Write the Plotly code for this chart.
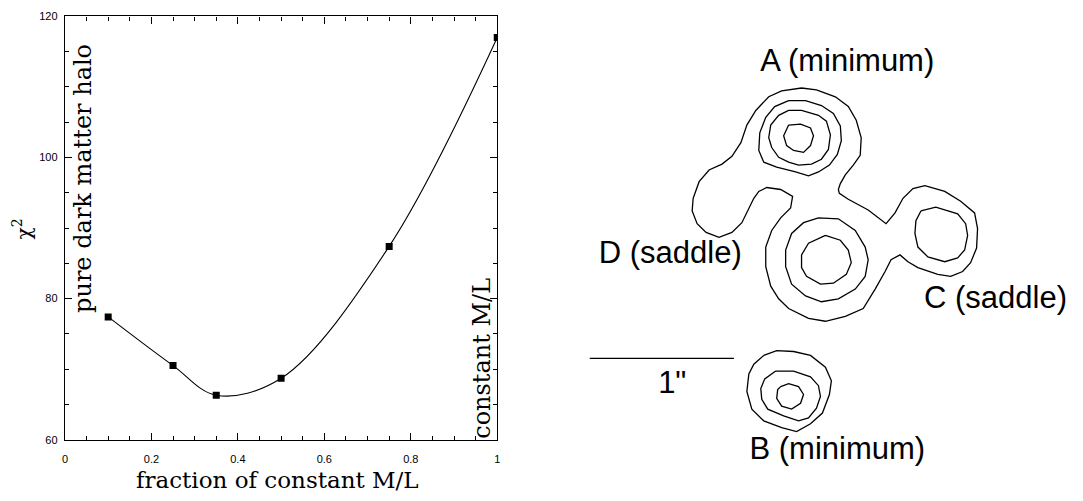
import plotly.graph_objects as go

# ---- left panel: chi^2 versus mass-to-light fraction ----
frac = [0.1, 0.25, 0.35, 0.5, 0.75, 1.0]
chi2 = [77.4, 70.5, 66.3, 68.7, 87.4, 117.0]

x_ticks = [0, 0.2, 0.4, 0.6, 0.8, 1]
x_tick_text = ["0", "0.2", "0.4", "0.6", "0.8", "1"]
y_ticks = [60, 80, 100, 120]

# ---- right panel: image-plane contours (sky units, y downward) ----
outer = [(803, 84), (818, 86), (837, 93), (850, 103), (858, 117), (863, 135), (862, 153),
         (855, 163), (847, 173), (842, 182), (840, 188), (841, 192), (850, 198), (870, 209),
         (888, 223), (897, 212), (905, 197), (915, 187), (927, 184), (947, 190), (963, 200),
         (977, 212), (980, 228), (979, 248), (973, 263), (965, 272), (953, 277), (940, 275),
         (920, 268), (910, 262), (902, 255), (893, 260), (887, 272), (877, 290), (865, 310),
         (847, 318), (827, 323), (810, 320), (790, 310), (780, 300), (772, 287), (767, 267),
         (767, 247), (773, 230), (782, 217), (792, 207), (794, 195), (782, 188), (768, 186),
         (760, 190), (755, 197), (750, 207), (743, 222), (733, 232), (720, 237), (707, 232),
         (698, 223), (693, 210), (694, 197), (700, 180), (710, 168), (723, 162), (733, 154),
         (742, 140), (748, 122), (757, 107), (770, 93), (783, 87), (803, 84)]
a_mid = [(790, 97), (807, 97), (823, 102), (835, 110), (842, 123), (843, 138), (839, 152),
         (831, 163), (820, 170), (810, 174), (797, 170), (778, 165), (765, 160), (760, 148),
         (761, 130), (767, 114), (776, 103), (790, 97)]
a_third = [(790, 107), (803, 107), (820, 112), (828, 118), (832, 132), (830, 147), (823, 157),
           (813, 162), (800, 163), (790, 160), (780, 155), (773, 145), (770, 135), (772, 122),
           (780, 112), (790, 107)]
a_inner = [(790, 122), (802, 121), (812, 125), (815, 133), (812, 143), (805, 150), (795, 148),
           (788, 143), (785, 133), (790, 122)]
d_outer = [(820, 217), (840, 218), (857, 230), (867, 247), (870, 260), (867, 277), (857, 290),
           (840, 300), (823, 303), (807, 297), (793, 285), (787, 267), (787, 250), (793, 233),
           (805, 222), (820, 217)]
d_inner = [(827, 235), (842, 240), (850, 250), (853, 263), (848, 275), (835, 284), (822, 285),
           (808, 277), (803, 268), (803, 255), (810, 243), (827, 235)]
c_inner = [(923, 210), (938, 206), (960, 213), (968, 223), (970, 235), (967, 250), (960, 258),
           (947, 262), (930, 257), (920, 247), (917, 233), (918, 220), (923, 210)]
b_outer = [(765, 358), (778, 353), (795, 354), (812, 358), (827, 370), (833, 384), (831, 398),
           (824, 417), (812, 428), (798, 436), (783, 432), (765, 425), (753, 413), (748, 395),
           (750, 377), (755, 367), (765, 358)]
b_mid = [(777, 374), (795, 374), (812, 380), (820, 389), (822, 400), (818, 412), (810, 422),
         (800, 425), (785, 420), (769, 413), (763, 403), (762, 392), (766, 382), (777, 374)]
b_inner = [(782, 390), (790, 387), (800, 390), (805, 398), (802, 407), (793, 413), (783, 410),
           (778, 402), (779, 393), (782, 390)]
contours = [outer, a_mid, a_third, a_inner, d_outer, d_inner, c_inner, b_outer, b_mid, b_inner]

scale_bar_x = [590, 735]
scale_bar_y = [361, 361]

image_labels = ["A (minimum)", "D (saddle)", "C (saddle)", "B (minimum)", "1\""]
image_label_x = [849, 671, 998, 839, 673]
image_label_y = [59, 255, 301, 456, 389]

W, H = 1083, 501
L, R, T, B = 62.3, 497.0, 10.7, 444.3

fig = go.Figure()

fig.add_trace(go.Scatter(
    x=frac, y=chi2, mode="lines+markers",
    line=dict(color="black", width=1.1, shape="spline", smoothing=1.0),
    marker=dict(symbol="square", size=7, color="black"),
    xaxis="x", yaxis="y", showlegend=False,
))

for c in contours:
    fig.add_trace(go.Scatter(
        x=[p[0] for p in c], y=[p[1] for p in c], mode="lines",
        line=dict(color="black", width=1.3),
        xaxis="x2", yaxis="y2", showlegend=False, hoverinfo="skip",
    ))

fig.add_trace(go.Scatter(
    x=scale_bar_x, y=scale_bar_y, mode="lines",
    line=dict(color="black", width=1.3),
    xaxis="x2", yaxis="y2", showlegend=False, hoverinfo="skip",
))

fig.add_trace(go.Scatter(
    x=image_label_x, y=image_label_y, mode="text", text=image_labels,
    textfont=dict(family="Liberation Sans, Arial, sans-serif", size=31, color="black"),
    xaxis="x2", yaxis="y2", showlegend=False, hoverinfo="skip",
))

serif = "DejaVu Serif, serif"
sans = "Liberation Sans, Arial, sans-serif"

axis_common = dict(
    showline=True, linecolor="black", linewidth=1.3, mirror="ticks",
    ticks="inside", ticklen=7, tickwidth=1, tickcolor="black",
    showgrid=False, zeroline=False,
    tickfont=dict(family=sans, size=11, color="black"),
)

fig.update_layout(
    width=W, height=H,
    margin=dict(l=0, r=0, t=0, b=0),
    paper_bgcolor="white", plot_bgcolor="rgba(0,0,0,0)",
    xaxis=dict(
        domain=[L / W, R / W], range=[0, 1], anchor="y",
        tickvals=x_ticks, ticktext=x_tick_text,
        minor=dict(ticks="inside", ticklen=4, dtick=0.05, tickcolor="black", showgrid=False),
        ticklabelstandoff=9,
        **axis_common,
    ),
    yaxis=dict(
        domain=[1 - B / H, 1 - T / H], range=[60, 120], anchor="x",
        tickvals=y_ticks,
        minor=dict(ticks="inside", ticklen=4, dtick=5, tickcolor="black", showgrid=False),
        ticklabelstandoff=4,
        **axis_common,
    ),
    xaxis2=dict(domain=[563 / W, 1], range=[563, W], anchor="y2", visible=False),
    yaxis2=dict(domain=[0, 1], range=[H, 0], anchor="x2", visible=False),
)

fig.add_annotation(
    x=0.04, y=97, xref="x", yref="y", text="pure dark matter halo",
    textangle=-90, showarrow=False, xanchor="center", yanchor="middle",
    font=dict(family=serif, size=24, color="black"),
)
fig.add_annotation(
    x=0.963, y=71.5, xref="x", yref="y", text="constant M/L",
    textangle=-90, showarrow=False, xanchor="center", yanchor="middle",
    font=dict(family=serif, size=24, color="black"),
)
fig.add_annotation(
    x=276 / W, y=1 - 486 / H, xref="paper", yref="paper",
    text="fraction of constant M/L", showarrow=False,
    xanchor="center", yanchor="middle",
    font=dict(family=serif, size=23, color="black"),
)
fig.add_annotation(
    x=19 / W, y=1 - 228 / H, xref="paper", yref="paper",
    text="χ<sup>2</sup>", textangle=-90, showarrow=False,
    xanchor="center", yanchor="middle",
    font=dict(family=serif, size=20, color="black"),
)

fig.write_html("out.html")
